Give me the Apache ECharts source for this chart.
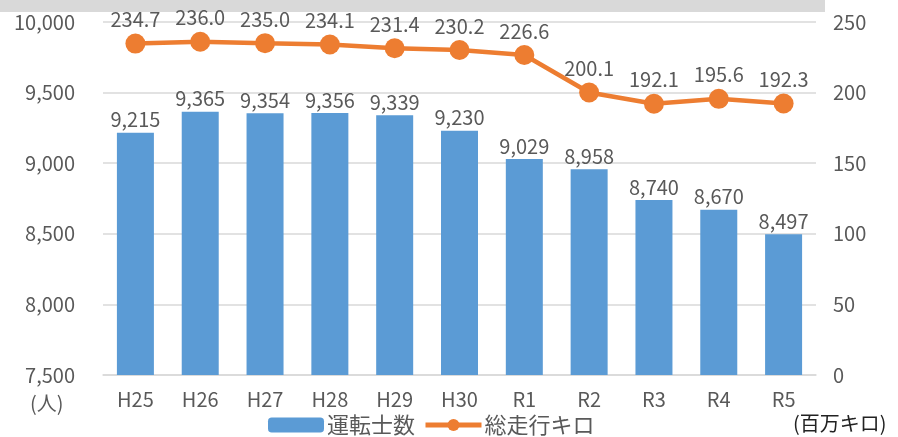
<!DOCTYPE html>
<html>
<head>
<meta charset="utf-8">
<script src="https://cdn.jsdelivr.net/npm/echarts@6/dist/echarts.min.js"></script>
<style>
  html, body { margin: 0; padding: 0; background: #fff; }
  #chart { width: 898px; height: 437px; }
</style>
</head>
<body>
<div id="chart"></div>
<script>
// Fiscal years
const years = ['H25', 'H26', 'H27', 'H28', 'H29', 'H30', 'R1', 'R2', 'R3', 'R4', 'R5'];
// Number of drivers (persons)
const drivers = [9215, 9365, 9354, 9356, 9339, 9230, 9029, 8958, 8740, 8670, 8497];
// Total distance travelled (million km)
const distance = [234.7, 236.0, 235.0, 234.1, 231.4, 230.2, 226.6, 200.1, 192.1, 195.6, 192.3];

const FONT = '"Noto Sans CJK JP", "Noto Sans", sans-serif';
const TXT = '#595959';

const chart = echarts.init(document.getElementById('chart'), null, { renderer: 'canvas' });

chart.setOption({
  animation: false,
  textStyle: { fontFamily: FONT },
  grid: { left: 103, right: 82, top: 22, bottom: 62, containLabel: false },
  legend: {
    data: [
      { name: '運転士数' },
      { name: '総走行キロ', itemStyle: { color: '#ed7d31' }, lineStyle: { color: '#ed7d31', width: 5 } }
    ],
    left: 268,
    top: 414,
    padding: 0,
    itemGap: 8,
    itemWidth: 56,
    itemHeight: 15,
    textStyle: { fontSize: 22, color: TXT, fontFamily: FONT, padding: [0, 0, 0, -2] }
  },
  graphic: [
    { type: 'rect', shape: { x: 0, y: 0, width: 825, height: 12 }, style: { fill: '#d9d9d9' }, z: -1 },
    { type: 'text', left: 30, top: 393, style: { text: '(人)', font: '20px ' + FONT, fill: TXT } },
    { type: 'text', left: 793, top: 413, style: { text: '(百万キロ)', font: '20px ' + FONT, fill: '#222' } }
  ],
  xAxis: {
    type: 'category',
    data: years,
    axisTick: { show: false },
    axisLine: { show: true, lineStyle: { color: '#d9d9d9', width: 1.5 } },
    axisLabel: { fontSize: 20, color: TXT, margin: 14, fontFamily: FONT }
  },
  yAxis: [
    {
      type: 'value',
      min: 7500,
      max: 10000,
      interval: 500,
      axisLine: { show: false },
      axisTick: { show: false },
      splitLine: { lineStyle: { color: '#d9d9d9', width: 1.5 } },
      axisLabel: {
        fontSize: 20, color: TXT, margin: 28, fontFamily: FONT,
        formatter: v => v.toLocaleString('en-US')
      }
    },
    {
      type: 'value',
      min: 0,
      max: 250,
      interval: 50,
      axisLine: { show: false },
      axisTick: { show: false },
      splitLine: { show: false },
      axisLabel: { fontSize: 20, color: TXT, margin: 17, fontFamily: FONT }
    }
  ],
  series: [
    {
      name: '運転士数',
      type: 'bar',
      data: drivers,
      barWidth: 37,
      itemStyle: { color: '#5b9bd5' },
      label: {
        show: true,
        position: 'top',
        distance: 3,
        fontSize: 20,
        color: TXT,
        fontFamily: FONT,
        formatter: p => p.value.toLocaleString('en-US')
      }
    },
    {
      name: '総走行キロ',
      type: 'line',
      yAxisIndex: 1,
      data: distance,
      symbol: 'circle',
      symbolSize: 20,
      lineStyle: { color: '#ed7d31', width: 4.5 },
      itemStyle: { color: '#ed7d31' },
      label: {
        show: true,
        position: 'top',
        distance: 4,
        fontSize: 20,
        color: TXT,
        fontFamily: FONT,
        formatter: p => p.value.toFixed(1)
      },
      z: 5
    }
  ]
});
</script>
</body>
</html>
